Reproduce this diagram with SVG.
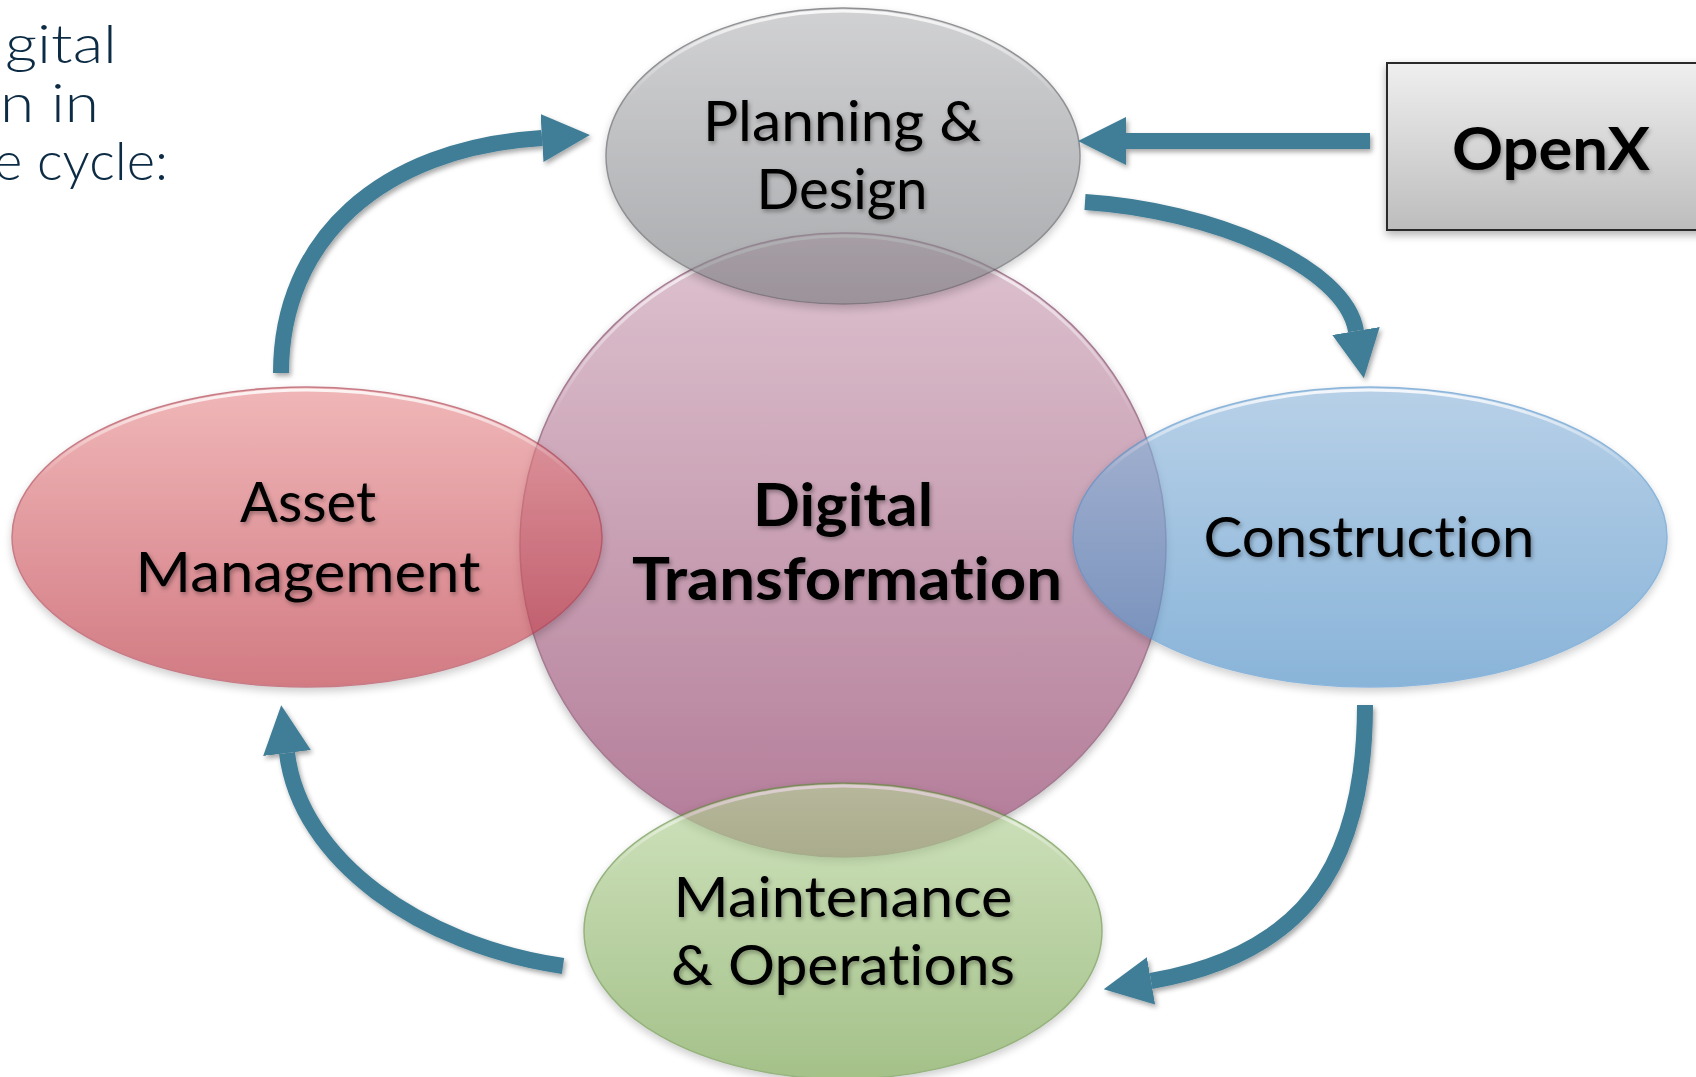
<svg xmlns="http://www.w3.org/2000/svg" width="1696" height="1077" viewBox="0 0 1696 1077">
  <defs>
    <style>
      text{font-variant-ligatures:none;font-feature-settings:"liga" 0,"clig" 0}
      .lbl{font-family:Lato,"Open Sans","Liberation Sans",sans-serif;font-size:56px;fill:#000;text-anchor:middle;filter:url(#txtShadow)}
      .bold{font-weight:700;font-size:60px}
      .intro{font-family:Lato,"Liberation Sans",sans-serif;font-weight:300;font-size:53px;fill:#0c2b44}
      .flow{fill:none;stroke:#3f7d96;stroke-width:16;stroke-linecap:butt;marker-end:url(#head)}
      .shape{filter:url(#nodeShadow)}
      .sat{opacity:0.65}
      .rim{fill:none;stroke:url(#gRim);stroke-width:3}
    </style>
    <linearGradient id="gCore" x1="0" y1="0" x2="0" y2="1">
      <stop offset="0" stop-color="#d6b4c4"/>
      <stop offset="0.5" stop-color="#bb88a1"/>
      <stop offset="1" stop-color="#a05a7e"/>
    </linearGradient>
    <linearGradient id="gPlan" x1="0" y1="0" x2="0" y2="1">
      <stop offset="0" stop-color="#b9babd"/>
      <stop offset="1" stop-color="#7c7e82"/>
    </linearGradient>
    <linearGradient id="gAsset" x1="0" y1="0" x2="0" y2="1">
      <stop offset="0" stop-color="#e99193"/>
      <stop offset="1" stop-color="#bb3542"/>
    </linearGradient>
    <linearGradient id="gBuild" x1="0" y1="0" x2="0" y2="1">
      <stop offset="0" stop-color="#92b8dc"/>
      <stop offset="1" stop-color="#4b8dc5"/>
    </linearGradient>
    <linearGradient id="gOps" x1="0" y1="0" x2="0" y2="1">
      <stop offset="0" stop-color="#b7d49b"/>
      <stop offset="1" stop-color="#75a14b"/>
    </linearGradient>
    <linearGradient id="gRim" x1="0" y1="0" x2="0" y2="1">
      <stop offset="0" stop-color="#fff" stop-opacity="0.85"/>
      <stop offset="0.3" stop-color="#fff" stop-opacity="0"/>
      <stop offset="1" stop-color="#fff" stop-opacity="0"/>
    </linearGradient>
    <linearGradient id="gBox" x1="0" y1="0" x2="0" y2="1">
      <stop offset="0" stop-color="#efefef"/>
      <stop offset="1" stop-color="#bdbdbd"/>
    </linearGradient>
    <filter id="nodeShadow" x="-10%" y="-10%" width="120%" height="125%">
      <feDropShadow dx="0" dy="4" stdDeviation="4" flood-color="#000" flood-opacity="0.3"/>
    </filter>
    <filter id="flowShadow" x="-10%" y="-10%" width="130%" height="130%">
      <feDropShadow dx="2" dy="3" stdDeviation="2.5" flood-color="#000" flood-opacity="0.35"/>
    </filter>
    <filter id="txtShadow" x="-5%" y="-20%" width="110%" height="150%">
      <feDropShadow dx="1.5" dy="2.5" stdDeviation="2" flood-color="#000" flood-opacity="0.35"/>
    </filter>
    <marker id="head" markerUnits="userSpaceOnUse" viewBox="0 0 48 48" markerWidth="48" markerHeight="48" refX="0" refY="24" orient="auto">
      <path d="M0,0 L48,24 L0,48 Z" fill="#3f7d96"/>
    </marker>
  </defs>

  <rect width="1696" height="1077" fill="#fff"/>

  <!-- heading fragment at the top-left edge -->
  <g id="intro">
    <text class="intro" x="5" y="63" textLength="112" lengthAdjust="spacingAndGlyphs">gital</text>
    <text class="intro" x="0" y="122" textLength="99" lengthAdjust="spacingAndGlyphs">n in</text>
    <text class="intro" x="-6" y="180" textLength="174" lengthAdjust="spacingAndGlyphs">e cycle:</text>
  </g>

  <!-- central hub -->
  <g id="digital-transformation">
    <g class="shape" opacity="0.8">
      <ellipse cx="843" cy="545" rx="323" ry="312" fill="url(#gCore)" stroke="#8f5c78" stroke-width="1.5"/>
      <ellipse class="rim" cx="843" cy="545" rx="320" ry="309"/>
    </g>
    <text class="lbl bold" x="843" y="526" textLength="180" lengthAdjust="spacingAndGlyphs">Digital</text>
    <text class="lbl bold" x="847" y="600" textLength="430" lengthAdjust="spacingAndGlyphs">Transformation</text>
  </g>

  <!-- lifecycle stages -->
  <g id="planning-design">
    <g class="shape sat">
      <ellipse cx="843" cy="156" rx="237" ry="148" fill="url(#gPlan)" stroke="#55575b" stroke-width="1.5"/>
      <ellipse class="rim" cx="843" cy="156" rx="234" ry="145"/>
    </g>
    <text class="lbl" x="842" y="141" textLength="278" lengthAdjust="spacingAndGlyphs">Planning &amp;</text>
    <text class="lbl" x="842" y="209" textLength="171" lengthAdjust="spacingAndGlyphs">Design</text>
  </g>

  <g id="asset-management">
    <g class="shape sat">
      <ellipse cx="307" cy="537" rx="295" ry="150" fill="url(#gAsset)" stroke="#a93646" stroke-width="1.5"/>
      <ellipse class="rim" cx="307" cy="537" rx="292" ry="147"/>
    </g>
    <text class="lbl" x="308" y="522" textLength="136" lengthAdjust="spacingAndGlyphs">Asset</text>
    <text class="lbl" x="308" y="592" textLength="345" lengthAdjust="spacingAndGlyphs">Management</text>
  </g>

  <g id="construction">
    <g class="shape sat">
      <ellipse cx="1370" cy="537" rx="297" ry="150" fill="url(#gBuild)" stroke="#4f8fc8" stroke-width="1.5"/>
      <ellipse class="rim" cx="1370" cy="537" rx="294" ry="147"/>
    </g>
    <text class="lbl" x="1369" y="557" textLength="331" lengthAdjust="spacingAndGlyphs">Construction</text>
  </g>

  <g id="maintenance-operations">
    <g class="shape sat">
      <ellipse cx="843" cy="931" rx="259" ry="148" fill="url(#gOps)" stroke="#5d8a3a" stroke-width="1.5"/>
      <ellipse class="rim" cx="843" cy="931" rx="256" ry="145"/>
    </g>
    <text class="lbl" x="843" y="917" textLength="339" lengthAdjust="spacingAndGlyphs">Maintenance</text>
    <text class="lbl" x="843" y="985" textLength="344" lengthAdjust="spacingAndGlyphs">&amp; Operations</text>
  </g>

  <!-- external source box -->
  <g id="openx">
    <rect x="1387" y="63" width="330" height="167" fill="url(#gBox)" stroke="#2a2a2a" stroke-width="2" filter="url(#nodeShadow)"/>
    <text class="lbl bold" x="1551" y="170" font-size="62" textLength="198" lengthAdjust="spacingAndGlyphs">OpenX</text>
  </g>

  <!-- cycle arrows -->
  <g id="connectors" filter="url(#flowShadow)">
    <path class="flow" d="M281,373 C281,240 380,148 542,138"/>
    <path class="flow" d="M1085,202 C1210,210 1345,265 1356,331"/>
    <path class="flow" d="M1365,705 C1365,870 1300,955 1151,981"/>
    <path class="flow" d="M563,966 C420,945 300,860 287,753"/>
    <path class="flow" d="M1370,141 L1126,141"/>
  </g>
</svg>
